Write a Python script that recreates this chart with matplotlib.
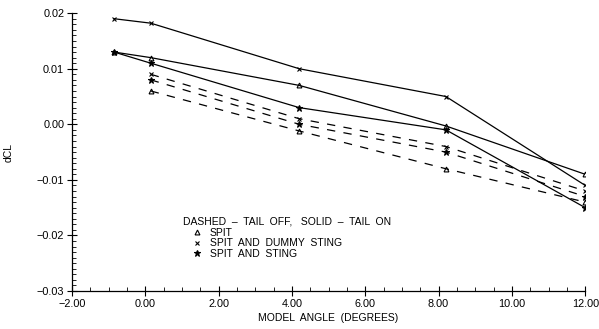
import matplotlib
matplotlib.use("Agg")
import matplotlib.pyplot as plt
from matplotlib.lines import Line2D
from matplotlib.ticker import MultipleLocator, FuncFormatter

plt.rcParams['font.family'] = ['Liberation Sans', 'DejaVu Sans']
plt.rcParams['lines.scale_dashes'] = False

# model angle (deg)
angle_on = [-0.85, 0.15, 4.2, 8.2, 12.0]
angle_off = [0.15, 4.2, 8.2, 12.0]

# tail on (solid)
spit_on = [0.013, 0.012, 0.007, -0.0003, -0.009]
dummy_on = [0.019, 0.0182, 0.010, 0.005, -0.011]
sting_on = [0.013, 0.011, 0.003, -0.001, -0.015]

# tail off (dashed)
spit_off = [0.006, -0.0012, -0.008, -0.014]
dummy_off = [0.009, 0.001, -0.004, -0.012]
sting_off = [0.008, 0.0, -0.005, -0.013]

labels = ["SPIT", "SPIT  AND  DUMMY  STING", "SPIT  AND  STING"]
markers = ['^', 'x', '*']
msizes = [3.5, 3.5, 4.5]

fig = plt.figure(figsize=(5.99, 3.29), dpi=100)
ax = fig.add_axes([0.120, 0.1155, 0.857, 0.8445])

lw = 0.9
for ys, m, ms in zip([spit_on, dummy_on, sting_on], markers, msizes):
    ax.plot(angle_on, ys, color='black', lw=lw, marker=m, ms=ms,
            mfc='none' if m == '^' else 'black', mew=0.8)
for ys, m, ms in zip([spit_off, dummy_off, sting_off], markers, msizes):
    ax.plot(angle_off, ys, color='black', lw=lw, marker=m, ms=ms,
            mfc='none' if m == '^' else 'black', mew=0.8, dashes=(6, 6))

ax.set_xlim(-2, 12)
ax.set_ylim(-0.03, 0.02)
ax.xaxis.set_major_locator(MultipleLocator(2))
ax.xaxis.set_minor_locator(MultipleLocator(0.5))
ax.yaxis.set_major_locator(MultipleLocator(0.01))
ax.yaxis.set_minor_locator(MultipleLocator(0.001))
fmt = FuncFormatter(lambda v, p: ('%.2f' % v).replace('-', '\u2212'))
ax.xaxis.set_major_formatter(fmt)
ax.yaxis.set_major_formatter(fmt)

for s in ['top', 'right']:
    ax.spines[s].set_visible(False)
for s in ['left', 'bottom']:
    ax.spines[s].set_linewidth(0.9)

ax.tick_params(which='major', direction='inout', length=7, width=0.8, labelsize=7.8, pad=2)
ax.tick_params(which='minor', direction='in', length=3, width=0.6)

ax.set_xlabel("MODEL  ANGLE  (DEGREES)", fontsize=7.5, labelpad=3)
ax.set_ylabel("dCL", fontsize=7.5, labelpad=17)

ax.text(0.216, 0.25, "DASHED  \u2013  TAIL  OFF,   SOLID  \u2013  TAIL  ON",
        transform=ax.transAxes, fontsize=7.5, va='center', ha='left')
handles = [Line2D([], [], ls='none', color='black', marker=m, ms=ms,
                  mfc='none' if m == '^' else 'black', mew=0.8)
           for m, ms in zip(markers, msizes)]
ax.legend(handles, labels, loc='upper left', bbox_to_anchor=(0.236, 0.228),
          frameon=False, fontsize=7.5, handlelength=0.8, handletextpad=0.8,
          labelspacing=0.05, borderpad=0, borderaxespad=0)

fig.savefig("out.png", dpi=100)
